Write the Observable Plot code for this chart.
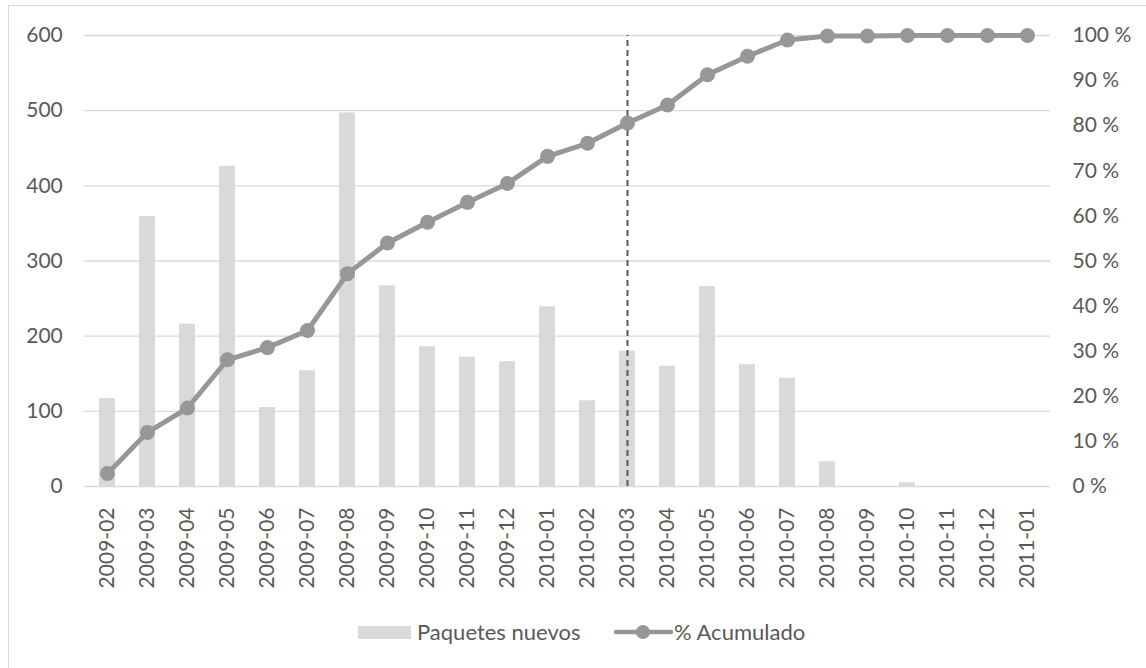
<!DOCTYPE html>
<html>
<head>
<meta charset="utf-8">
<script src="https://cdn.jsdelivr.net/npm/d3@7"></script>
<script src="https://cdn.jsdelivr.net/npm/@observablehq/plot@0.6"></script>
<style>
  html, body { margin: 0; padding: 0; background: #fff; }
  #wrap { position: relative; width: 1146px; height: 668px; overflow: hidden; background: #fff;
          font-family: Lato, "Open Sans", sans-serif; color: #595959; }
  #frame { position: absolute; left: 8px; top: 5px; width: 1400px; height: 900px;
           border: 1.5px solid #d9d9d9; box-sizing: border-box; }
  #chart { position: absolute; left: 0; top: 0; }
  .legend { position: absolute; top: 620px; height: 24px; font-size: 22px; line-height: 24px; }
</style>
</head>
<body>
<div id="wrap">
  <div id="frame"></div>
  <div id="chart"></div>
  <div id="legend"></div>
</div>
<script>
// Monthly new packages and their cumulative share
const months = [
  "2009-02","2009-03","2009-04","2009-05","2009-06","2009-07","2009-08","2009-09",
  "2009-10","2009-11","2009-12","2010-01","2010-02","2010-03","2010-04","2010-05",
  "2010-06","2010-07","2010-08","2010-09","2010-10","2010-11","2010-12","2011-01"
];
const paquetesNuevos = [
  117, 359, 216, 426, 105, 154, 497, 267,
  186, 172, 166, 239, 114, 180, 160, 266,
  162, 144, 33, 0, 5, 0, 0, 0
];
const acumuladoPct = [
  2.9, 12.0, 17.4, 28.1, 30.8, 34.6, 47.2, 54.0,
  58.6, 63.0, 67.2, 73.2, 76.1, 80.6, 84.6, 91.3,
  95.4, 99.0, 99.9, 99.9, 100, 100, 100, 100
];
const leftTicks = [0, 100, 200, 300, 400, 500, 600];
const pctTicks = [0, 10, 20, 30, 40, 50, 60, 70, 80, 90, 100];
const markerMonth = "2010-03";

const leftMax = 600;              // left axis top
const pctToLeft = leftMax / 100;  // 100 % shares the top of the left axis

const rows = months.map((m, i) => ({
  month: m,
  paquetes: paquetesNuevos[i],
  pct: acumuladoPct[i]
}));

const barColor = "#d9d9d9";
const lineColor = "#979797";
const textColor = "#595959";

const chart = Plot.plot({
  width: 1146,
  height: 620,
  marginLeft: 84.3,
  marginRight: 96,
  marginTop: 35,
  marginBottom: 134,
  style: { fontFamily: "Lato, 'Open Sans', sans-serif", fontSize: "21px", color: textColor, background: "transparent", overflow: "visible" },
  x: { type: "band", domain: months, paddingInner: 0.6, paddingOuter: 0.3, axis: null, label: null },
  y: { domain: [0, leftMax], axis: null, label: null },
  marks: [
    Plot.ruleY(leftTicks, { stroke: barColor, strokeWidth: 1.3 }),
    Plot.barY(rows, { x: "month", y: "paquetes", fill: barColor }),
    Plot.ruleX([markerMonth], { y1: 0, y2: leftMax, stroke: textColor, strokeWidth: 2, strokeDasharray: "6,4" }),
    Plot.line(rows, { x: "month", y: d => d.pct * pctToLeft, stroke: lineColor, strokeWidth: 5 }),
    Plot.dot(rows, { x: "month", y: d => d.pct * pctToLeft, r: 7.5, fill: lineColor }),
    Plot.axisY(leftTicks, { anchor: "left", label: null, tickSize: 0, tickPadding: 22, fill: textColor }),
    Plot.axisY(pctTicks.map(p => p * pctToLeft), {
      anchor: "right", label: null, tickSize: 0, tickPadding: 22, fill: textColor,
      tickFormat: d => `${Math.round(d / pctToLeft)} %`
    }),
    Plot.axisX({ anchor: "bottom", label: null, tickSize: 0, tickPadding: 21, tickRotate: -90, fill: textColor })
  ]
});
document.getElementById("chart").appendChild(chart);

// Legend below the chart
const legend = document.getElementById("legend");
legend.innerHTML = `
  <div class="legend" style="left:358px;">
    <span style="position:absolute;left:0;top:6px;width:53px;height:13px;background:${barColor};"></span>
    <span style="position:absolute;left:59px;top:0;white-space:nowrap;">Paquetes nuevos</span>
  </div>
  <div class="legend" style="left:614px;">
    <svg style="position:absolute;left:0;top:0;" width="60" height="24">
      <line x1="2" y1="12" x2="57" y2="12" stroke="${lineColor}" stroke-width="4.5" stroke-linecap="round"/>
      <circle cx="29" cy="12" r="7" fill="${lineColor}"/>
    </svg>
    <span style="position:absolute;left:60px;top:0;white-space:nowrap;">% Acumulado</span>
  </div>`;
</script>
</body>
</html>
